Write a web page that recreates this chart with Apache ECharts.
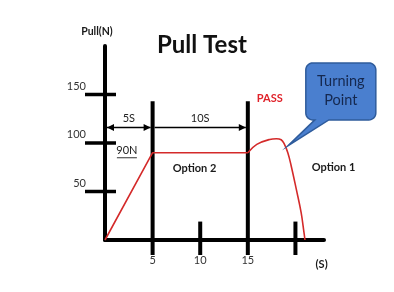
<!DOCTYPE html>
<html>
<head>
<meta charset="utf-8">
<script src="https://cdn.jsdelivr.net/npm/echarts@6/dist/echarts.min.js"></script>
<style>html,body{margin:0;padding:0;background:#fff}#c{width:394px;height:292px}</style>
</head>
<body>
<div id="c"></div>
<script>
// ---- data ----
const xTickLabels = [5, 10, 15];
const yTickLabels = [50, 100, 150];
const rampX = [0, 5, 15];
const rampY = [0, 90, 90];
const bumpX = [15, 15.94, 17.3, 18.0, 18.5, 18.8, 19.2, 19.55, 20.1, 20.6, 20.9, 21.0];
const bumpY = [90, 98.6, 103.7, 104.4, 103.4, 99.6, 90, 76.6, 51.9, 28.2, 7.5, 0];
const guideX = [5, 10, 15, 20];
const guideTop = [143, 19, 143, 19];
const spanFrom = [0, 5];
const spanTo = [5, 15];
const spanLevel = [116, 116];
const spanText = ['5S', '10S'];
const spanBoth = [true, false];
const noteX = [2.3, 9.4, 24.0, 17.3, 22.75, -0.85];
const noteY = [92, 74, 75, 146, -25, 215];
const noteText = ['90N', 'Option 2', 'Option 1', 'PASS', '(S)', 'Pull(N)'];
const calloutAt = [19.2, 97];
const calloutLines = ['Turning', 'Point'];

const FONT = 'Lato';
const chart = echarts.init(document.getElementById('c'));

function pairs(xs, ys) { return xs.map((x, i) => [x, ys[i]]); }

const option = {
  animation: false,
  title: {
    text: 'Pull Test', left: 157, top: 33, padding: 0,
    textStyle: { fontFamily: FONT, fontWeight: 'bold', fontSize: 24, color: '#111' }
  },
  grid: { left: 105, top: 46, width: 219, height: 194, containLabel: false },
  xAxis: {
    type: 'value', min: 0, max: 23,
    splitLine: { show: false },
    axisTick: { show: false },
    axisLine: { lineStyle: { color: '#000', width: 4 } },
    axisLabel: { customValues: xTickLabels, margin: 15, color: '#333', fontFamily: FONT, fontSize: 11 }
  },
  yAxis: {
    type: 'value', min: 0, max: 200,
    splitLine: { show: false },
    axisTick: { show: false },
    axisLine: { lineStyle: { color: '#000', width: 4 } },
    axisLabel: { customValues: yTickLabels, margin: 19, color: '#333', fontFamily: FONT, fontSize: 11,
      verticalAlign: 'bottom', padding: [0, 0, 3, 0] }
  },
  series: [
    { type: 'line', data: pairs(rampX, rampY), symbol: 'none', lineStyle: { color: '#d42a2a', width: 1.6 }, z: 5 },
    { type: 'line', data: pairs(bumpX, bumpY), symbol: 'none', smooth: 0.4, lineStyle: { color: '#d42a2a', width: 1.6 }, z: 5 },
    { // vertical guide lines and ticks
      type: 'custom', clip: false, z: 4,
      data: pairs(guideX, guideTop),
      renderItem: function (params, api) {
        const t = api.coord([api.value(0), api.value(1)]);
        const b = api.coord([api.value(0), 0]);
        return { type: 'line', shape: { x1: t[0], y1: t[1], x2: b[0], y2: b[1] + 15 },
          style: { stroke: '#000', lineWidth: 4 } };
      }
    },
    { // y tick marks crossing the axis
      type: 'custom', clip: false, z: 4,
      data: yTickLabels.map(v => [0, v]),
      renderItem: function (params, api) {
        const p = api.coord([0, api.value(1)]);
        return { type: 'line', shape: { x1: p[0] - 20, y1: p[1], x2: p[0] + 11, y2: p[1] },
          style: { stroke: '#000', lineWidth: 3.5 } };
      }
    },
    { // time spans with arrows
      type: 'custom', clip: false, z: 6,
      data: spanFrom.map((f, i) => [f, spanTo[i], spanLevel[i]]),
      renderItem: function (params, api) {
        const i = params.dataIndex;
        const a = api.coord([api.value(0), api.value(2)]);
        const b = api.coord([api.value(1), api.value(2)]);
        const x1 = a[0] + 2, x2 = b[0] - 2, y = a[1];
        const ch = [
          { type: 'line', shape: { x1: x1, y1: y, x2: x2, y2: y }, style: { stroke: '#000', lineWidth: 1.5 } },
          { type: 'polygon', shape: { points: [[x2, y], [x2 - 7, y - 3.5], [x2 - 7, y + 3.5]] }, style: { fill: '#000' } },
          { type: 'text', style: { text: spanText[i], x: (x1 + x2) / 2, y: y - 9, align: 'center', verticalAlign: 'middle',
            fill: '#222', fontFamily: FONT, fontSize: 11 } }
        ];
        if (spanBoth[i]) ch.push({ type: 'polygon', shape: { points: [[x1, y], [x1 + 7, y - 3.5], [x1 + 7, y + 3.5]] }, style: { fill: '#000' } });
        return { type: 'group', children: ch };
      }
    },
    { // text notes
      type: 'custom', clip: false, z: 6,
      data: pairs(noteX, noteY),
      renderItem: function (params, api) {
        const i = params.dataIndex;
        const p = api.coord([api.value(0), api.value(1)]);
        const txt = noteText[i];
        const isPass = txt === 'PASS';
        const bold = txt !== '90N';
        const ch = [{ type: 'text', style: { text: txt, x: p[0], y: p[1], align: 'center', verticalAlign: 'middle',
          fill: isPass ? '#e0232b' : '#1a1a1a', fontFamily: FONT, fontWeight: bold ? 'bold' : 'normal',
          fontSize: txt === 'Pull(N)' ? 10.5 : 11 } }];
        if (txt === '90N') ch.push({ type: 'line', shape: { x1: p[0] - 10, y1: p[1] + 7, x2: p[0] + 10, y2: p[1] + 7 },
          style: { stroke: '#333', lineWidth: 1 } });
        return { type: 'group', children: ch };
      }
    },
    { // callout
      type: 'custom', clip: false, z: 7,
      data: [calloutAt],
      renderItem: function (params, api) {
        const t = api.coord([api.value(0), api.value(1)]);
        const tx = t[0], ty = t[1];
        const x0 = tx + 18, x1 = tx + 88, y0 = ty - 83, y1 = ty - 26, r = 7;
        const pts = [];
        function arc(cx, cy, a0, a1) {
          for (let k = 0; k <= 8; k++) {
            const a = (a0 + (a1 - a0) * k / 8) * Math.PI / 180;
            pts.push([cx + r * Math.cos(a), cy + r * Math.sin(a)]);
          }
        }
        arc(x0 + r, y0 + r, 180, 270);
        arc(x1 - r, y0 + r, 270, 360);
        arc(x1 - r, y1 - r, 0, 90);
        pts.push([tx + 41, y1], [tx, ty], [tx + 27, y1]);
        arc(x0 + r, y1 - r, 90, 180);
        const cx = (x0 + x1) / 2;
        return { type: 'group', children: [
          { type: 'polygon', shape: { points: pts }, style: { fill: '#4a7fcf', stroke: '#2f5c9c', lineWidth: 1.5 } },
          { type: 'text', style: { text: calloutLines[0], x: cx, y: ty - 65, align: 'center', verticalAlign: 'middle',
            fill: '#15284f', fontFamily: FONT, fontSize: 14.5 } },
          { type: 'text', style: { text: calloutLines[1], x: cx, y: ty - 46, align: 'center', verticalAlign: 'middle',
            fill: '#15284f', fontFamily: FONT, fontSize: 14.5 } }
        ] };
      }
    }
  ]
};
chart.setOption(option);
</script>
</body>
</html>
